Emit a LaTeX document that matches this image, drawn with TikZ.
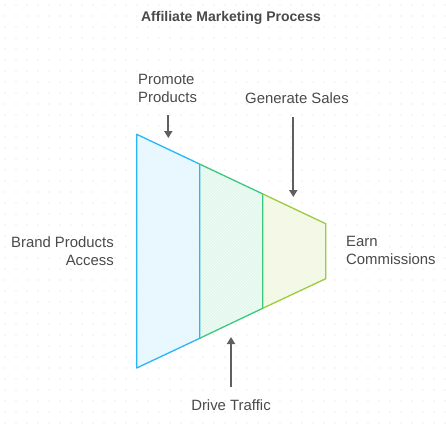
\documentclass[tikz,border=0pt]{standalone}
\usepackage{fontspec}
\setmainfont{Liberation Sans}
\usetikzlibrary{patterns,arrows.meta}
\definecolor{txt}{HTML}{4A4A4A}
\definecolor{arr}{HTML}{5F5F5F}
\definecolor{cblue}{HTML}{29B6F6}
\definecolor{fblue}{HTML}{E3F6FE}
\definecolor{cgreen}{HTML}{3CC87E}
\definecolor{fgreen}{HTML}{E2F8EC}
\definecolor{clime}{HTML}{9CCB3B}
\definecolor{flime}{HTML}{F1F8E1}
\definecolor{dotc}{HTML}{DCDCDC}
\tikzset{
  lbl/.style={text=txt,font=\fontsize{14.9}{18.5}\selectfont,inner sep=0pt},
  ttl/.style={text=txt,font=\bfseries\fontsize{14}{17}\selectfont,inner sep=0pt},
  conn/.style={draw=arr,line width=2pt,-{Triangle[length=7pt,width=8pt]}},
  seg/.style={line width=1.3pt,line join=round},
  hatch/.style={pattern=north east lines,pattern color=white}
}
\begin{document}
\begin{tikzpicture}[x=1pt,y=-1pt]
\useasboundingbox (0,0) rectangle (446,432);
\fill[white] (0,0) rectangle (446,432);
\foreach \i in {0,...,40}{\foreach \j in {0,...,39}{\fill[dotc] (\i*11+5,\j*11+5) circle (0.55);}}
% funnel segments
\fill[fblue] (136.7,134.3) -- (199.7,164.1) -- (199.7,338.3) -- (136.7,368) -- cycle;
\fill[fgreen] (199.7,164.1) -- (262.7,193.9) -- (262.7,308.3) -- (199.7,338.3) -- cycle;
\fill[flime] (262.7,193.9) -- (325.7,223.7) -- (325.7,278.7) -- (262.7,308.3) -- cycle;
\fill[hatch,opacity=0.6] (136.7,134.3) -- (325.7,223.7) -- (325.7,278.7) -- (136.7,368) -- cycle;
\draw[seg,draw=cblue] (136.7,134.3) -- (199.7,164.1) -- (199.7,338.3) -- (136.7,368) -- cycle;
\draw[seg,draw=cgreen] (199.7,164.1) -- (262.7,193.9) -- (262.7,308.3) -- (199.7,338.3);
\draw[seg,draw=clime] (262.7,193.9) -- (325.7,223.7) -- (325.7,278.7) -- (262.7,308.3);
% labels
\node[ttl] (title) at (231,18) {Affiliate Marketing Process};
\node[lbl,anchor=north west,align=left] (promote) at (138,74) {Promote\\Products};
\node[lbl,anchor=north west] (sales) at (245,92) {Generate Sales};
\node[lbl,anchor=north east,align=right] (brand) at (114,236) {Brand Products\\Access};
\node[lbl,anchor=north west,align=left] (earn) at (346,236) {Earn\\Commissions};
\node[lbl] (drive) at (231,405) {Drive Traffic};
% arrow coordinates
\coordinate (pA) at (168.3,115);
\coordinate (pB) at (168.3,138);
\coordinate (sA) at (293.3,117);
\coordinate (sB) at (293.3,197);
\coordinate (dA) at (231,387);
\coordinate (dB) at (231,337);
\draw[conn] (pA) -- (pB);
\draw[conn] (sA) -- (sB);
\draw[conn] (dA) -- (dB);
\end{tikzpicture}
\end{document}
